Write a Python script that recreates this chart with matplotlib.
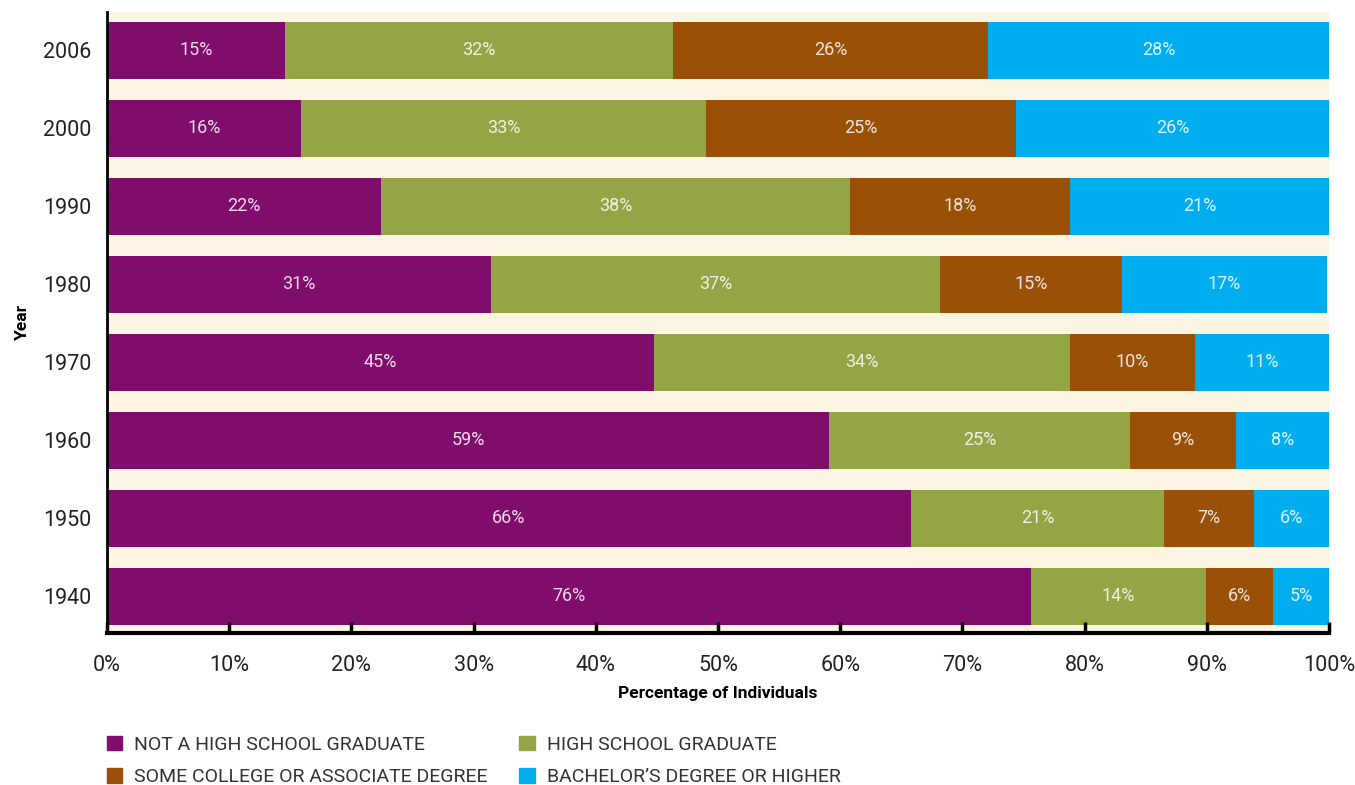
import numpy as np
import matplotlib
matplotlib.use('Agg')
import matplotlib.pyplot as plt
from matplotlib.patches import Patch

plt.rcParams['font.family'] = ['Roboto', 'DejaVu Sans']

years = ['1940', '1950', '1960', '1970', '1980', '1990', '2000', '2006']
not_hs = [75.6, 65.8, 59.1, 44.8, 31.4, 22.4, 15.9, 14.6]
hs_grad = [14.3, 20.7, 24.6, 34.0, 36.8, 38.4, 33.1, 31.7]
some_college = [5.5, 7.4, 8.7, 10.2, 14.9, 18.0, 25.4, 25.8]
bachelor = [4.6, 6.1, 7.6, 11.0, 16.7, 21.2, 25.6, 27.9]

series = [not_hs, hs_grad, some_college, bachelor]
names = ['NOT A HIGH SCHOOL GRADUATE', 'HIGH SCHOOL GRADUATE',
         'SOME COLLEGE OR ASSOCIATE DEGREE', 'BACHELOR\u2019S DEGREE OR HIGHER']
colors = ['#800D6B', '#94A545', '#9A5007', '#00AEEF']

fig = plt.figure(figsize=(13.55, 7.85), dpi=100)
ax = fig.add_axes([107/1355, 1-633/785, (1329-107)/1355, (633-12)/785])
ax.set_facecolor('#FDF5E4')

y = np.arange(len(years))
left = np.zeros(len(years))
for vals, c in zip(series, colors):
    vals = np.array(vals)
    ax.barh(y, vals, left=left, height=0.73, color=c, edgecolor='none')
    for yi, l, v in zip(y, left, vals):
        ax.text(l + v/2, yi, '%.0f%%' % v, ha='center', va='center',
                color='white', alpha=0.85, fontsize=13)
    left += vals

ax.set_xlim(0, 100)
ax.set_ylim(-0.47, 7.49)
ax.set_yticks(y)
ax.set_yticklabels(years, fontsize=15.5, color='#222222')
ax.set_xticks(np.arange(0, 101, 10))
ax.set_xticklabels(['%d%%' % t for t in range(0, 101, 10)], fontsize=15.5,
                   color='#222222')
ax.tick_params(axis='y', length=0, pad=11)
ax.tick_params(axis='x', direction='in', length=8, width=2.5, color='black', pad=16)
for s in ['top', 'right']:
    ax.spines[s].set_visible(False)
ax.spines['bottom'].set_linewidth(3)
ax.spines['left'].set_linewidth(2)

ax.set_xlabel('Percentage of Individuals', fontsize=12.5, fontweight='bold', labelpad=7)
ax.set_ylabel('Year', fontsize=12.5, fontweight='bold', labelpad=10)

handles = [Patch(color=colors[i]) for i in [0, 2, 1, 3]]
labels = [names[i] for i in [0, 2, 1, 3]]
leg = fig.legend(handles, labels, loc='upper left', bbox_to_anchor=(89/1355, 1-718/785),
                 ncol=2, frameon=False, handlelength=0.8, handleheight=0.8,
                 handletextpad=0.6, columnspacing=1.65, labelspacing=0.75,
                 prop={'size': 14})
for t in leg.get_texts():
    t.set_color('#333333')

fig.savefig('out.png', dpi=100)
